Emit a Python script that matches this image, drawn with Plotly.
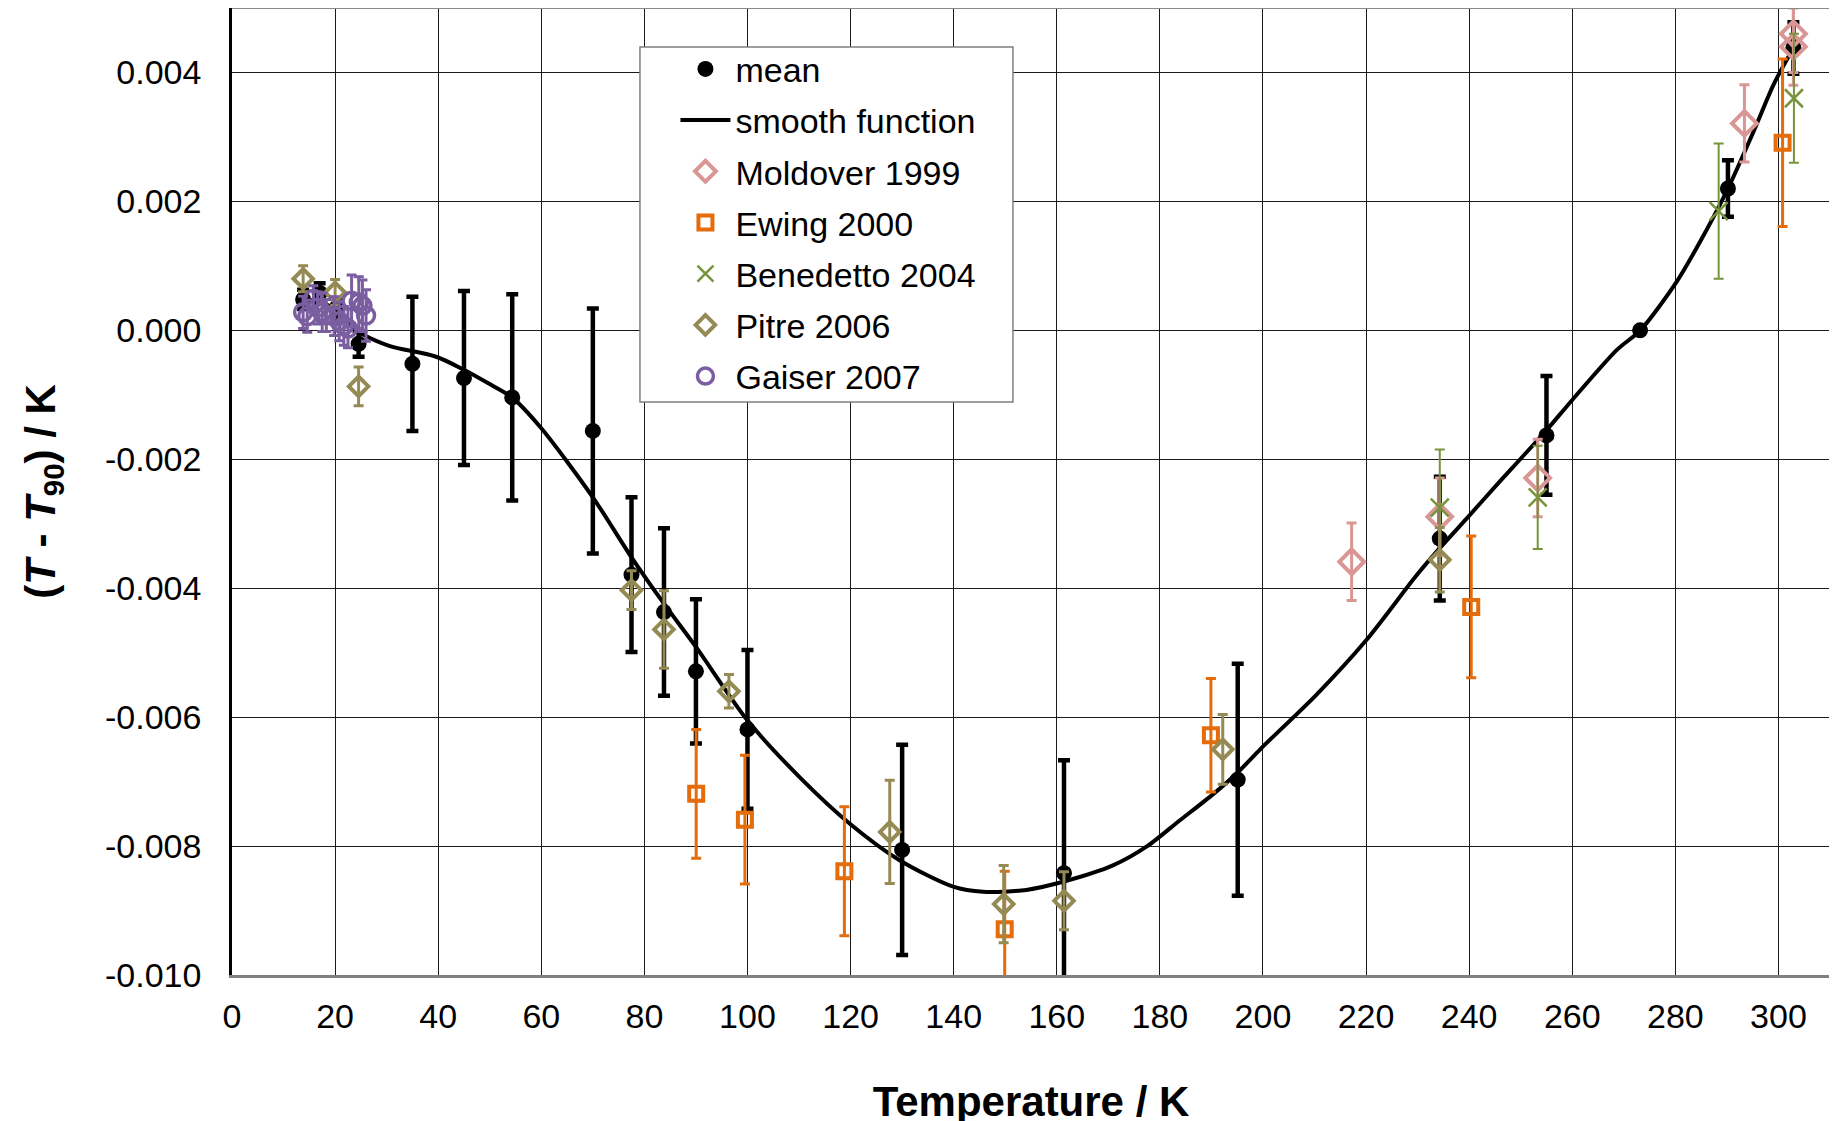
import plotly.graph_objects as go

# ---- data ----
mean_T = [13.8, 17.0, 20.3, 24.56, 35.0, 45.0, 54.36, 70.0, 77.5, 83.8, 90.0, 100.0,
          130.0, 161.4, 195.1, 234.3, 255.0, 273.16, 290.2, 302.9]
mean_dT = [0.00048, 0.00058, 0.00035, -0.00021, -0.00052, -0.00074, -0.00104, -0.00156,
           -0.00379, -0.00437, -0.00529, -0.00619, -0.00806, -0.00842, -0.00697, -0.00323,
           -0.00163, 0.0, 0.00220, 0.00438]
mean_err = [0.00015, 0.00015, 0.00015, 0.0002, 0.00104, 0.00135, 0.0016, 0.0019,
            0.0012, 0.0013, 0.00112, 0.00123, 0.00163, 0.00175, 0.0018, 0.00096,
            0.00092, 0.0, 0.00044, 0.0004]

smooth_T = [13.8, 17.0, 20.3, 23.7, 25.3, 30.5, 39.6, 44.7, 49.9, 54.3, 59.8, 70.0, 77.5,
            83.8, 90.0, 100.0, 110.1, 119.8, 129.5, 139.9, 145.7, 154.1, 161.4, 170.9,
            177.4, 183.9, 190.4, 195.2, 199.7, 210.4, 220.1, 229.8, 234.5, 239.5, 246.0,
            249.9, 255.0, 260.0, 268.7, 273.2, 280.3, 284.9, 290.2, 295.2, 299.1, 302.9]
smooth_dT = [0.00048, 0.00045, 0.00030, 0.00002, -0.00006, -0.00024, -0.00041, -0.00060,
             -0.00083, -0.00104, -0.00150, -0.00259, -0.00352, -0.00424, -0.00491, -0.00605,
             -0.00693, -0.00765, -0.00822, -0.00863, -0.00871, -0.00868, -0.00855, -0.00830,
             -0.00801, -0.00760, -0.00719, -0.00685, -0.00648, -0.00565, -0.00480, -0.00380,
             -0.00336, -0.00292, -0.00234, -0.00200, -0.00155, -0.00108, -0.00030, 0.0,
             0.00076, 0.00139, 0.00220, 0.00309, 0.00382, 0.00438]

mold_T = [217.2, 234.3, 253.3, 293.4, 302.9, 302.9]
mold_dT = [-0.00359, -0.00289, -0.00229, 0.00321, 0.00440, 0.00460]
mold_err = [0.0006, 0.0006, 0.0006, 0.0006, 0.0006, 0.0006]

ewing_T = [90.05, 99.5, 118.8, 149.9, 189.9, 240.4, 300.8]
ewing_dT = [-0.00719, -0.00759, -0.00839, -0.00929, -0.00628, -0.00429, 0.00291]
ewing_err = [0.0010, 0.0010, 0.0010, 0.0009, 0.00088, 0.0011, 0.0013]

bene_T = [234.3, 253.3, 288.4, 303.0]
bene_dT = [-0.00275, -0.00259, 0.00185, 0.00360]
bene_err = [0.0009, 0.0008, 0.00105, 0.0010]

pitre_T = [13.8, 20.0, 24.56, 77.5, 83.8, 96.4, 127.6, 149.7, 161.4, 192.2, 234.3]
pitre_dT = [0.00080, 0.00059, -0.00087, -0.00403, -0.00464, -0.00560, -0.00778, -0.00890,
            -0.00885, -0.00650, -0.00356]
pitre_err = [0.0002, 0.0002, 0.0003, 0.0003, 0.0006, 0.00026, 0.0008, 0.0006, 0.00045,
             0.00054, 0.0005]

gaiser_T = [13.8, 14.6, 15.8, 16.6, 17.5, 18.3, 19.8, 20.8, 21.7, 22.5, 23.2, 24.6, 25.3, 26.0]
gaiser_dT = [0.00028, 0.00022, 0.00049, 0.00035, 0.00028, 0.00023, 0.00022, 0.00014,
             0.00007, 0.00003, 0.00046, 0.00043, 0.00038, 0.00023]
gaiser_err = [0.00025, 0.00025, 0.0002, 0.00025, 0.0003, 0.00025, 0.0003, 0.0003, 0.0003,
              0.0003, 0.0004, 0.0004, 0.0004, 0.0004]

x_ticks = list(range(0, 301, 20))
y_ticks = [-0.010, -0.008, -0.006, -0.004, -0.002, 0.000, 0.002, 0.004]
y_ticktext = ["-0.010", "-0.008", "-0.006", "-0.004", "-0.002", "0.000", "0.002", "0.004"]

# ---- colours ----
C_MOLD = "#D99694"
C_EWING = "#E46C0A"
C_BENE = "#77933C"
C_PITRE = "#948A54"
C_GAISER = "#7A5EA0"

FONT = "Liberation Sans, Arial, sans-serif"

fig = go.Figure()

fig.add_trace(go.Scatter(
    x=mean_T, y=mean_dT, mode="markers", name="mean", legendgroup="g1",
    marker=dict(symbol="circle", size=16, color="black"),
    error_y=dict(type="data", array=mean_err, visible=True, color="black",
                 thickness=4.5, width=6),
))
fig.add_trace(go.Scatter(
    x=smooth_T, y=smooth_dT, mode="lines", name="smooth function", legendgroup="g2",
    line=dict(color="black", width=4, shape="spline", smoothing=0.8),
))
fig.add_trace(go.Scatter(
    x=mold_T, y=mold_dT, mode="markers", name="Moldover 1999", legendgroup="g3",
    marker=dict(symbol="diamond-open", size=19, color=C_MOLD, line=dict(width=4, color=C_MOLD)),
    error_y=dict(type="data", array=mold_err, visible=True, color=C_MOLD, thickness=3, width=5),
))
fig.add_trace(go.Scatter(
    x=ewing_T, y=ewing_dT, mode="markers", name="Ewing 2000", legendgroup="g4",
    marker=dict(symbol="square-open", size=14, color=C_EWING, line=dict(width=4, color=C_EWING)),
    error_y=dict(type="data", array=ewing_err, visible=True, color=C_EWING, thickness=3, width=5),
))
fig.add_trace(go.Scatter(
    x=bene_T, y=bene_dT, mode="markers", name="Benedetto 2004", legendgroup="g5",
    marker=dict(symbol="x-thin-open", size=18, color=C_BENE, line=dict(width=2.5, color=C_BENE)),
    error_y=dict(type="data", array=bene_err, visible=True, color=C_BENE, thickness=2, width=5),
))
fig.add_trace(go.Scatter(
    x=pitre_T, y=pitre_dT, mode="markers", name="Pitre 2006", legendgroup="g6",
    marker=dict(symbol="diamond-open", size=15, color=C_PITRE, line=dict(width=4, color=C_PITRE)),
    error_y=dict(type="data", array=pitre_err, visible=True, color=C_PITRE, thickness=3, width=5),
))
fig.add_trace(go.Scatter(
    x=gaiser_T, y=gaiser_dT, mode="markers", name="Gaiser 2007", legendgroup="g7",
    marker=dict(symbol="circle-open", size=17, color=C_GAISER, line=dict(width=3.5, color=C_GAISER)),
    error_y=dict(type="data", array=gaiser_err, visible=True, color=C_GAISER, thickness=3, width=5),
))

fig.update_layout(
    width=1837, height=1121,
    margin=dict(l=224, r=15, t=0, b=154),
    paper_bgcolor="white", plot_bgcolor="white",
    font=dict(family=FONT, size=34, color="black"),
    showlegend=True,
    legend=dict(
        x=0.2775, y=0.9666, xanchor="left", yanchor="top",
        bgcolor="rgba(0,0,0,0)", borderwidth=0,
        font=dict(family=FONT, size=34, color="black"),
        itemwidth=50, tracegroupgap=4,
    ),
    xaxis=dict(
        range=[0, 310], tickvals=x_ticks, ticktext=[str(v) for v in x_ticks],
        showgrid=True, gridcolor="#1a1a1a", gridwidth=1,
        zeroline=False, showline=True, linecolor="#808080", linewidth=3,
        ticks="", ticklabelstandoff=9, automargin=False,
        tickfont=dict(family=FONT, size=34, color="black"),
        title=dict(text="<b>Temperature / K</b>", font=dict(family=FONT, size=42, color="black"),
                   standoff=53),
    ),
    yaxis=dict(
        range=[-0.010, 0.005], tickvals=y_ticks, ticktext=y_ticktext,
        showgrid=True, gridcolor="#1a1a1a", gridwidth=1,
        zeroline=False, showline=True, linecolor="black", linewidth=2.5,
        ticks="", ticklabelstandoff=21, automargin=False,
        tickfont=dict(family=FONT, size=34, color="black"),
        title=dict(text="<b>(<i>T</i> - <i>T</i><sub>90</sub>) / K</b>",
                   font=dict(family=FONT, size=42, color="black"), standoff=37),
    ),
    shapes=[
        # top and right frame lines
        dict(type="line", xref="paper", yref="paper", x0=0, y0=1, x1=1, y1=1,
             line=dict(color="#8a8a8a", width=2), layer="above"),
        dict(type="line", xref="paper", yref="paper", x0=1, y0=0, x1=1, y1=1,
             line=dict(color="#8a8a8a", width=2), layer="above"),
        # legend box
        dict(type="rect", xref="paper", yref="paper", x0=0.2553, x1=0.4887, y0=0.5925, y1=0.9597,
             line=dict(color="#7f7f7f", width=1.5), fillcolor="white", layer="above"),
    ],
)

fig.write_html("out.html")
